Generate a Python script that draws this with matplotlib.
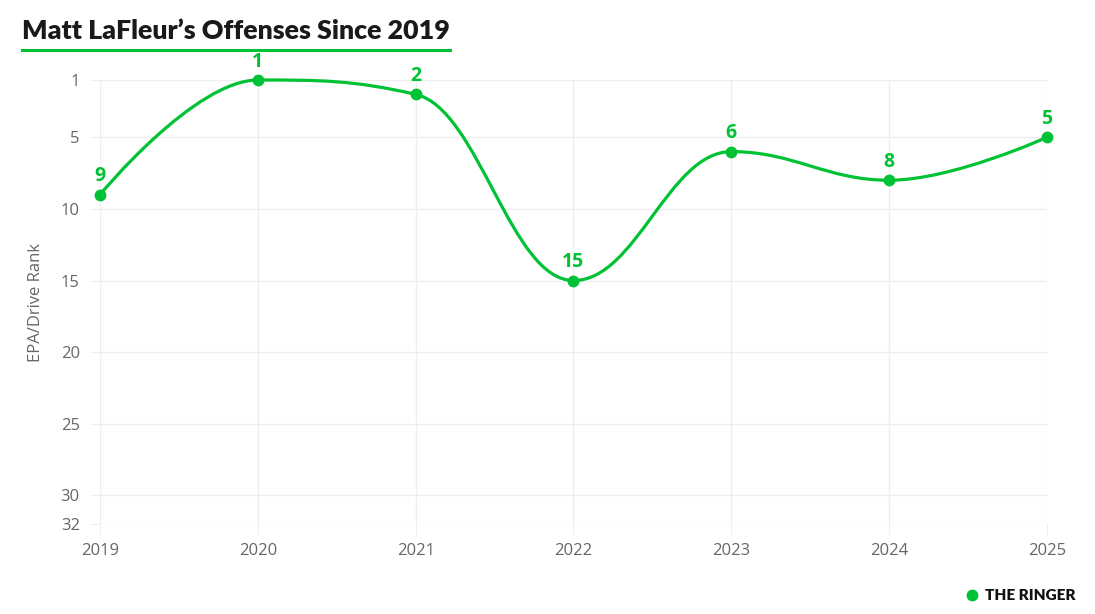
import matplotlib
matplotlib.use("Agg")
import matplotlib.pyplot as plt
from matplotlib.path import Path
from matplotlib.patches import PathPatch

years = [2019, 2020, 2021, 2022, 2023, 2024, 2025]
ranks = [9, 1, 2, 15, 6, 8, 5]
yticks = [1, 5, 10, 15, 20, 25, 30, 32]
title = "Matt LaFleur\u2019s Offenses Since 2019"
ylabel = "EPA/Drive Rank"
brand = "THE RINGER"

GREEN = "#00C234"
GRAY = "#666666"
GRID = "#eeeeee"
FONT = ["Open Sans", "DejaVu Sans"]

plt.rcParams['font.family'] = FONT


def spline_path(xs, ys, smoothing=1.5):
    n = len(xs)
    left = [None] * n
    right = [None] * n
    denom = smoothing + 1
    for i in range(1, n - 1):
        px, py = xs[i], ys[i]
        lx, ly = xs[i - 1], ys[i - 1]
        nx, ny = xs[i + 1], ys[i + 1]
        lcx = (smoothing * px + lx) / denom
        lcy = (smoothing * py + ly) / denom
        rcx = (smoothing * px + nx) / denom
        rcy = (smoothing * py + ny) / denom
        corr = 0
        if rcx != lcx:
            corr = (rcy - lcy) * (rcx - px) / (rcx - lcx) + py - rcy
        lcy += corr
        rcy += corr
        if lcy > ly and lcy > py:
            lcy = max(ly, py); rcy = 2 * py - lcy
        elif lcy < ly and lcy < py:
            lcy = min(ly, py); rcy = 2 * py - lcy
        if rcy > ny and rcy > py:
            rcy = max(ny, py); lcy = 2 * py - rcy
        elif rcy < ny and rcy < py:
            rcy = min(ny, py); lcy = 2 * py - rcy
        left[i] = (lcx, lcy)
        right[i] = (rcx, rcy)
    verts = [(xs[0], ys[0])]
    codes = [Path.MOVETO]
    for i in range(1, n):
        c1 = right[i - 1] if right[i - 1] is not None else (xs[i - 1], ys[i - 1])
        c2 = left[i] if left[i] is not None else (xs[i], ys[i])
        verts += [c1, c2, (xs[i], ys[i])]
        codes += [Path.CURVE4] * 3
    return Path(verts, codes)


fig = plt.figure(figsize=(10.95, 6.14), dpi=100)
ax = fig.add_axes([100 / 1095, 1 - 524 / 614, (1047 - 100) / 1095, (524 - 80) / 614])

ax.set_xlim(years[0], years[-1])
ax.set_ylim(max(yticks), min(yticks))
ax.set_yticks(yticks)
ax.set_xticks(years)
ax.grid(True, color=GRID, linewidth=1)
ax.set_axisbelow(True)
for s in ax.spines.values():
    s.set_visible(False)
ax.tick_params(length=7.5, width=0.75, color=GRID, labelsize=12, labelcolor=GRAY)
ax.tick_params(axis='y', pad=7)
ax.tick_params(axis='x', pad=6.5)

path = spline_path([float(x) for x in years], [float(y) for y in ranks])
patch = PathPatch(path, facecolor="none", edgecolor=GREEN, linewidth=2.3,
                  clip_on=False, capstyle='round', joinstyle='round', zorder=4)
ax.add_patch(patch)
ax.plot(years, ranks, 'o', color=GREEN, markersize=7.5, clip_on=False, zorder=5)

for x, y in zip(years, ranks):
    ax.annotate(str(y), (x, y), xytext=(0, 6), textcoords="offset points",
                ha="center", va="bottom", color=GREEN, fontsize=14,
                fontweight="bold", annotation_clip=False)

ax.set_ylabel(ylabel, fontsize=12, color=GRAY)
ax.yaxis.set_label_coords(-56 / 947, 0.5)

fig.text(22 / 1095, 1 - 31 / 614, title, fontsize=19.3, fontweight="heavy",
         color="#1a1a1a", ha="left", va="center", fontfamily=["Lato", "DejaVu Sans"])
fig.add_artist(plt.Line2D([22 / 1095, 450 / 1095], [1 - 50 / 614, 1 - 50 / 614],
                          color=GREEN, linewidth=2.2, transform=fig.transFigure))

fig.add_artist(plt.Line2D([972 / 1095], [1 - 595 / 614], marker='o', color=GREEN,
                          markersize=7.5, transform=fig.transFigure))
fig.text(985 / 1095, 1 - 595 / 614, brand, fontsize=11, fontweight="heavy",
         color="#111111", ha="left", va="center", fontfamily=["Lato", "DejaVu Sans"])

fig.savefig("out.png", dpi=100, facecolor="white")
